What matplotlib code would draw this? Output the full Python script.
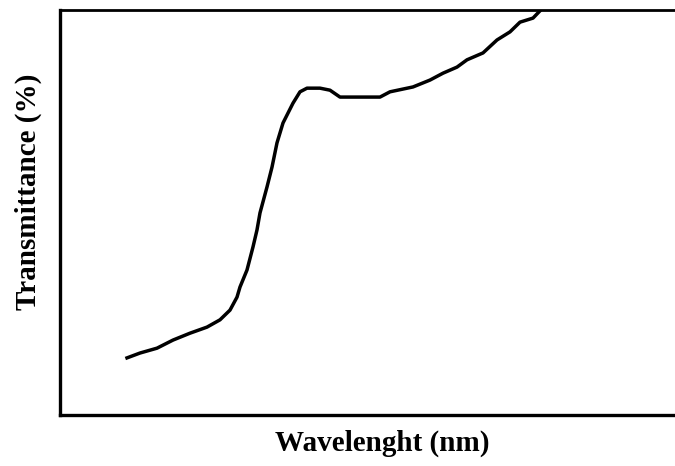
import matplotlib
matplotlib.use("Agg")
import matplotlib.pyplot as plt

# values (arbitrary nm scale, % transmittance)
wavelength = [367, 380, 397, 413, 430, 447, 460, 470, 477, 480, 487, 493,
              497, 500, 507, 512, 517, 523, 533, 540, 547, 560, 570, 580,
              620, 630, 653, 670, 683, 697, 707, 723, 737, 750, 760, 773, 780]
transmittance = [14.1, 15.3, 16.5, 18.5, 20.2, 21.7, 23.5, 25.9, 29.1, 31.6,
                 35.8, 41.5, 45.7, 49.9, 56.3, 61.2, 67.2, 72.1, 77.0, 79.8,
                 80.7, 80.7, 80.2, 78.5, 78.5, 79.8, 81.0, 82.7, 84.4, 85.9,
                 87.7, 89.4, 92.6, 94.6, 97.0, 98.0, 99.8]

plt.rcParams["font.family"] = ["Liberation Serif", "DejaVu Serif"]

fig = plt.figure(figsize=(6.75, 4.66), dpi=100)
ax = fig.add_axes([60 / 675, 51 / 466, 615 / 675, 405 / 466])

ax.plot(wavelength, transmittance, color="black", linewidth=2.5)

ax.set_xlim(300, 915)
ax.set_ylim(0, 100)
ax.set_xticks([])
ax.set_yticks([])
ax.spines["right"].set_visible(False)
ax.spines["left"].set_linewidth(2.4)
ax.spines["bottom"].set_linewidth(2.4)
ax.spines["top"].set_linewidth(2.0)

ax.set_xlabel("Wavelenght (nm)", fontsize=21, fontweight="bold")
ax.set_ylabel("Transmittance (%)", fontsize=21, fontweight="bold")
ax.xaxis.set_label_coords(0.524, -0.035)
ax.yaxis.set_label_coords(-0.03, 0.55)

fig.savefig("out.png", dpi=100)
